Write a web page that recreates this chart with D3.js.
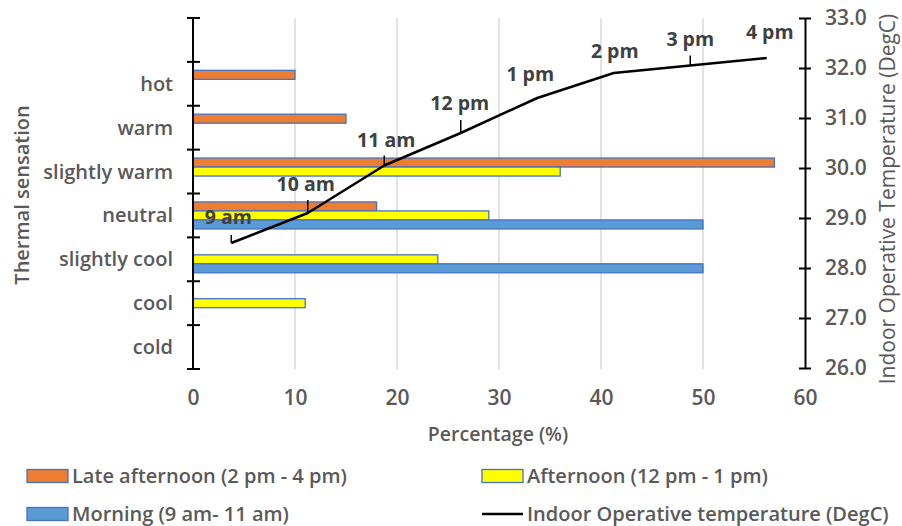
<!DOCTYPE html>
<html>
<head>
<meta charset="utf-8">
<script src="https://cdn.jsdelivr.net/npm/d3@7/dist/d3.min.js"></script>
<style>
  html, body { margin: 0; padding: 0; background: #fff; }
  svg { display: block; }
  text { font-family: "Open Sans", "Noto Sans", sans-serif; }
</style>
</head>
<body>
<svg id="chart" width="902" height="526"></svg>
<script>
// ---------- data ----------
const categories = ["", "hot", "warm", "slightly warm", "neutral", "slightly cool", "cool", "cold"];
const seriesNames = ["Late afternoon (2 pm - 4 pm)", "Afternoon (12 pm - 1 pm)", "Morning (9 am- 11 am)"];
const lateAfternoon = [0, 10, 15, 57, 18, 0, 0, 0];
const afternoon     = [0, 0, 0, 36, 29, 24, 11, 0];
const morning       = [0, 0, 0, 0, 50, 50, 0, 0];
const times = ["9 am", "10 am", "11 am", "12 pm", "1 pm", "2 pm", "3 pm", "4 pm"];
const temperature = [28.5, 29.1, 30.05, 30.7, 31.4, 31.9, 32.05, 32.2];
const lineName = "Indoor Operative temperature (DegC)";
const xTicks = [0, 10, 20, 30, 40, 50, 60];
const tempTicks = [26, 27, 28, 29, 30, 31, 32, 33];

// ---------- layout / style ----------
const colors = ["#ED7D31", "#FFFF00", "#5B9BD5"];
const barStroke = "#4472C4";
const textGray = "#595959";
const labelGray = "#404040";
const L = 193, R = 805, T = 18, B = 369;
// data label offsets (dx, dy of text centre from point; leader length)
const labelOffsets = [[-3,-26,8],[-2,-29,13],[2,-26,10],[-1,-30,13],[-7,-24,0],[1,-22,0],[0,-27,10],[3,-26,0]];

const svg = d3.select("#chart");

const x = d3.scaleLinear().domain([0, 60]).range([L, R]);
const y = d3.scaleBand().domain(categories).range([T, B]).paddingInner(0.385).paddingOuter(0.1925);
const sub = d3.scaleBand().domain([0, 1, 2]).range([0, y.bandwidth()]);
const yT = d3.scaleLinear().domain([26, 33]).range([B - 1, T]);
const xP = d3.scalePoint().domain(times).range([L, R]).padding(0.5);

// gridlines
svg.append("g").selectAll("line").data(xTicks.filter(d => d > 0 && d < 60)).join("line")
  .attr("x1", d => x(d)).attr("x2", d => x(d)).attr("y1", T).attr("y2", B)
  .attr("stroke", "#D9D9D9").attr("stroke-width", 1.5);

// bars
const seriesData = [lateAfternoon, afternoon, morning];
seriesData.forEach((vals, si) => {
  svg.append("g").selectAll("rect")
    .data(vals.map((v, i) => ({ v, c: categories[i] })).filter(d => d.v > 0))
    .join("rect")
    .attr("x", x(0))
    .attr("y", d => y(d.c) + sub(si))
    .attr("width", d => x(d.v) - x(0))
    .attr("height", sub.bandwidth())
    .attr("fill", colors[si])
    .attr("stroke", barStroke)
    .attr("stroke-width", 1.3);
});

// left axis (category) with ticks at band boundaries
const step = y.step();
const boundaries = categories.map(c => y(c) - y.paddingInner() * step / 2);
boundaries.push(B);
svg.append("line").attr("x1", L).attr("x2", L).attr("y1", T).attr("y2", B)
  .attr("stroke", "#000").attr("stroke-width", 2);
svg.append("g").selectAll("line").data(boundaries).join("line")
  .attr("x1", L - 6).attr("x2", L + 7).attr("y1", d => d).attr("y2", d => d)
  .attr("stroke", "#000").attr("stroke-width", 2);
svg.append("g").selectAll("text").data(categories).join("text")
  .attr("x", 173).attr("y", d => y(d) + y.bandwidth() / 2 + 7)
  .attr("text-anchor", "end").attr("fill", textGray)
  .attr("font-size", 20).attr("font-weight", 600)
  .text(d => d);

// right axis (temperature)
const rightAxis = d3.axisRight(yT).tickValues(tempTicks).tickFormat(d3.format(".1f")).tickSize(0).tickPadding(0);
const ra = svg.append("g").attr("transform", `translate(${R},0)`).call(rightAxis);
ra.select(".domain").attr("stroke", "#000").attr("stroke-width", 2);
ra.selectAll(".tick line").remove();
ra.selectAll(".tick").append("line").attr("x1", -6).attr("x2", 6).attr("stroke", "#000").attr("stroke-width", 2);
ra.selectAll(".tick text").attr("x", 20).attr("fill", textGray).attr("font-size", 21).attr("font-weight", 600)
  .attr("font-family", "Open Sans");

// bottom axis labels (no line)
const ba = svg.append("g").attr("transform", `translate(0,${B})`)
  .call(d3.axisBottom(x).tickValues(xTicks).tickSize(0).tickPadding(0));
ba.select(".domain").remove();
ba.selectAll(".tick text").attr("y", 21).attr("dy", "0.71em").attr("fill", textGray)
  .attr("font-size", 21).attr("font-weight", 600).attr("font-family", "Open Sans");

// line
const line = d3.line().x((d, i) => xP(times[i])).y(d => yT(d));
svg.append("path").datum(temperature).attr("d", line)
  .attr("fill", "none").attr("stroke", "#000").attr("stroke-width", 2.5).attr("stroke-linejoin", "round");

// data labels
const lbl = svg.append("g");
temperature.forEach((t, i) => {
  const px = xP(times[i]), py = yT(t);
  const [dx, dy, lead] = labelOffsets[i];
  if (lead > 0) {
    lbl.append("line").attr("x1", px).attr("x2", px).attr("y1", py).attr("y2", py - lead)
      .attr("stroke", "#000").attr("stroke-width", 1.5);
  }
  lbl.append("text").attr("x", px + dx).attr("y", py + dy + 7)
    .attr("text-anchor", "middle").attr("fill", labelGray)
    .attr("font-size", 19.5).attr("font-weight", 700).text(times[i]);
});

// axis titles
svg.append("text").attr("x", 498).attr("y", 441).attr("text-anchor", "middle")
  .attr("fill", textGray).attr("font-size", 19.5).attr("font-weight", 600).text("Percentage (%)");
svg.append("text").attr("transform", "translate(29,195) rotate(-90)").attr("text-anchor", "middle")
  .attr("fill", textGray).attr("font-size", 20).attr("font-weight", 600).text("Thermal sensation");
svg.append("text").attr("transform", "translate(895,199) rotate(-90)").attr("text-anchor", "middle")
  .attr("fill", textGray).attr("font-size", 21).attr("font-weight", 400).text("Indoor Operative Temperature (DegC)");

// legend
const legendItems = [
  { name: seriesNames[0], type: "rect", color: colors[0], x: 27, y: 476 },
  { name: seriesNames[1], type: "rect", color: colors[1], x: 482, y: 476 },
  { name: seriesNames[2], type: "rect", color: colors[2], x: 27, y: 514 },
  { name: lineName, type: "line", color: "#000", x: 482, y: 514 }
];
const lg = svg.append("g");
legendItems.forEach(it => {
  if (it.type === "rect") {
    lg.append("rect").attr("x", it.x).attr("y", it.y - 6.5).attr("width", 41).attr("height", 13)
      .attr("fill", it.color).attr("stroke", barStroke).attr("stroke-width", 1.3);
  } else {
    lg.append("line").attr("x1", it.x).attr("x2", it.x + 41).attr("y1", it.y).attr("y2", it.y)
      .attr("stroke", "#000").attr("stroke-width", 2.5);
  }
  lg.append("text").attr("x", it.x + 45).attr("y", it.y + 7).attr("fill", textGray)
    .attr("font-size", 20).attr("font-weight", 600).text(it.name);
});
</script>
</body>
</html>
